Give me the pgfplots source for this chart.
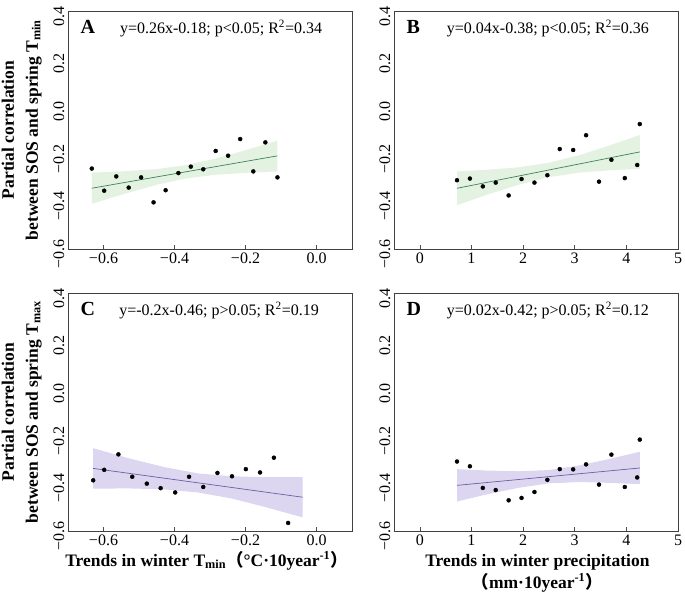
\documentclass[border=0pt]{standalone}
\usepackage{fontspec}
\setmainfont{Liberation Serif}
\newfontfamily\cjk{Noto Sans CJK SC}
\usepackage{pgfplots}
\pgfplotsset{compat=1.18}

\definecolor{gband}{HTML}{E4F3E1}
\definecolor{gline}{HTML}{3F7F5F}
\definecolor{pband}{HTML}{DDD6F0}
\definecolor{pline}{HTML}{6B5FA6}

\pgfplotsset{
  panel/.style={
    scale only axis, width=284pt, height=238pt,
    anchor=north west, clip mode=individual,
    ymin=-0.6, ymax=0.4,
    ytick={-0.6,-0.4,-0.2,0,0.2,0.4},
    yticklabels={−0.6,−0.4,−0.2,0.0,0.2,0.4},
    yticklabel style={rotate=90, anchor=south, xshift=-5pt, font=\fontsize{16}{18}\selectfont},
    xticklabel style={font=\fontsize{16}{18}\selectfont},
    tick pos=left, tick align=inside, major tick length=4pt,
    xtick style={black!70, line width=0.5pt},
    ytick style={draw=none},
    axis line style={black!75, line width=0.7pt},
  },
  xA/.style={xmin=-0.7, xmax=0.1, xtick={-0.6,-0.4,-0.2,0}, xticklabels={−0.6,−0.4,−0.2,0.0}},
  xB/.style={xmin=-0.5, xmax=5, xtick={0,1,2,3,4,5}, xticklabels={0,1,2,3,4,5}},
  ylab/.style={ylabel={Partial correlation\\between SOS and spring T\textsubscript{min}},
    ylabel style={align=center, font=\bfseries\fontsize{17.5}{24}\selectfont,
      at={(axis description cs:-0.08,0.5)}, anchor=south}},
  dots/.style={only marks, mark=*, mark size=2pt, black},
}
\newcommand{\panellabel}[1]{\node[anchor=base west, font=\bfseries\fontsize{20}{22}\selectfont] at (axis description cs:0.032,0.905) {#1};}
\newcommand{\eqlabel}[2]{\node[anchor=base, font=\fontsize{16}{18}\selectfont] at (axis description cs:#1,0.905) {#2};}

\begin{document}
\begin{tikzpicture}
\useasboundingbox (0pt,0pt) rectangle (685pt,-597pt);

% ---------- A ----------
\begin{axis}[panel, xA, ylab, at={(68pt,-11pt)}]
\addplot[draw=none, fill=gband] coordinates {
 (-0.633,-0.279) (-0.55,-0.274) (-0.45,-0.264) (-0.37,-0.248) (-0.29,-0.222) (-0.20,-0.185) (-0.11,-0.144)
 (-0.11,-0.274) (-0.20,-0.280) (-0.29,-0.289) (-0.37,-0.304) (-0.45,-0.330) (-0.55,-0.372) (-0.633,-0.410)};
\addplot[gline, line width=0.7pt] coordinates {(-0.633,-0.3446) (-0.110,-0.2086)};
\addplot[dots] coordinates {
 (-0.633,-0.262) (-0.598,-0.355) (-0.564,-0.295) (-0.529,-0.342) (-0.494,-0.299)
 (-0.459,-0.404) (-0.425,-0.353) (-0.389,-0.281) (-0.354,-0.254) (-0.319,-0.265)
 (-0.284,-0.188) (-0.249,-0.208) (-0.215,-0.138) (-0.178,-0.274) (-0.144,-0.152) (-0.110,-0.299)};
\panellabel{A}
\eqlabel{0.539}{y=0.26x-0.18; p<0.05; R\textsuperscript{2}=0.34}
\end{axis}

% ---------- B ----------
\begin{axis}[panel, xB, at={(394pt,-11pt)}]
\addplot[draw=none, fill=gband] coordinates {
 (0.72,-0.274) (1.3,-0.267) (1.9,-0.257) (2.49,-0.238) (3.1,-0.205) (3.7,-0.163) (4.26,-0.121)
 (4.26,-0.263) (3.7,-0.269) (3.1,-0.279) (2.49,-0.298) (1.9,-0.331) (1.3,-0.372) (0.72,-0.416)};
\addplot[gline, line width=0.7pt] coordinates {(0.72,-0.3449) (4.26,-0.1920)};
\addplot[dots] coordinates {
 (0.72,-0.311) (0.97,-0.304) (1.22,-0.337) (1.47,-0.321) (1.72,-0.375) (1.97,-0.306)
 (2.22,-0.321) (2.47,-0.290) (2.71,-0.180) (2.97,-0.184) (3.22,-0.122) (3.47,-0.317)
 (3.71,-0.225) (3.97,-0.302) (4.21,-0.247) (4.26,-0.075)};
\panellabel{B}
\eqlabel{0.542}{y=0.04x-0.38; p<0.05; R\textsuperscript{2}=0.36}
\end{axis}

% ---------- C ----------
\begin{axis}[panel, xA, ylab, at={(68pt,-293pt)},
  ylabel={Partial correlation\\between SOS and spring T\textsubscript{max}},
  xlabel={Trends in winter T\textsubscript{min}{\cjk （}°C·10year\textsuperscript{-1}{\cjk ）}},
  xlabel style={at={(axis description cs:0.488,-0.147)}, anchor=base, font=\bfseries\fontsize{17.5}{19}\selectfont}]
\addplot[draw=none, fill=pband] coordinates {
 (-0.629,-0.252) (-0.53,-0.294) (-0.43,-0.331) (-0.334,-0.358) (-0.24,-0.370) (-0.14,-0.374) (-0.039,-0.373)
 (-0.039,-0.543) (-0.14,-0.501) (-0.24,-0.463) (-0.334,-0.438) (-0.43,-0.425) (-0.53,-0.421) (-0.629,-0.422)};
\addplot[pline, line width=0.7pt] coordinates {(-0.629,-0.337) (-0.039,-0.458)};
\addplot[dots] coordinates {
 (-0.629,-0.387) (-0.598,-0.343) (-0.558,-0.278) (-0.519,-0.372) (-0.478,-0.401)
 (-0.439,-0.420) (-0.398,-0.438) (-0.359,-0.372) (-0.319,-0.415) (-0.279,-0.356)
 (-0.238,-0.370) (-0.199,-0.340) (-0.159,-0.354) (-0.120,-0.292) (-0.080,-0.566)};
\panellabel{C}
\eqlabel{0.532}{y=-0.2x-0.46; p>0.05; R\textsuperscript{2}=0.19}
\end{axis}

% ---------- D ----------
\begin{axis}[panel, xB, at={(394pt,-293pt)},
  xlabel={Trends in winter precipitation},
  xlabel style={at={(axis description cs:0.505,-0.147)}, anchor=base, font=\bfseries\fontsize{17.5}{19}\selectfont}]
\addplot[draw=none, fill=pband] coordinates {
 (0.72,-0.340) (1.3,-0.346) (1.9,-0.349) (2.49,-0.344) (3.1,-0.324) (3.7,-0.296) (4.26,-0.267)
 (4.26,-0.403) (3.7,-0.398) (3.1,-0.394) (2.49,-0.400) (1.9,-0.419) (1.3,-0.446) (0.72,-0.476)};
\addplot[pline, line width=0.7pt] coordinates {(0.72,-0.4082) (4.26,-0.3352)};
\addplot[dots] coordinates {
 (0.72,-0.308) (0.97,-0.328) (1.22,-0.419) (1.47,-0.428) (1.72,-0.471) (1.97,-0.461)
 (2.22,-0.436) (2.47,-0.385) (2.71,-0.340) (2.97,-0.341) (3.22,-0.320) (3.47,-0.405)
 (3.71,-0.279) (3.97,-0.415) (4.21,-0.375) (4.26,-0.216)};
\panellabel{D}
\eqlabel{0.542}{y=0.02x-0.42; p>0.05; R\textsuperscript{2}=0.12}
\node[anchor=base, font=\bfseries\fontsize{17.5}{19}\selectfont] at (axis description cs:0.504,-0.24) {{\cjk （}mm·10year\textsuperscript{-1}{\cjk ）}};
\end{axis}
\end{tikzpicture}
\end{document}
